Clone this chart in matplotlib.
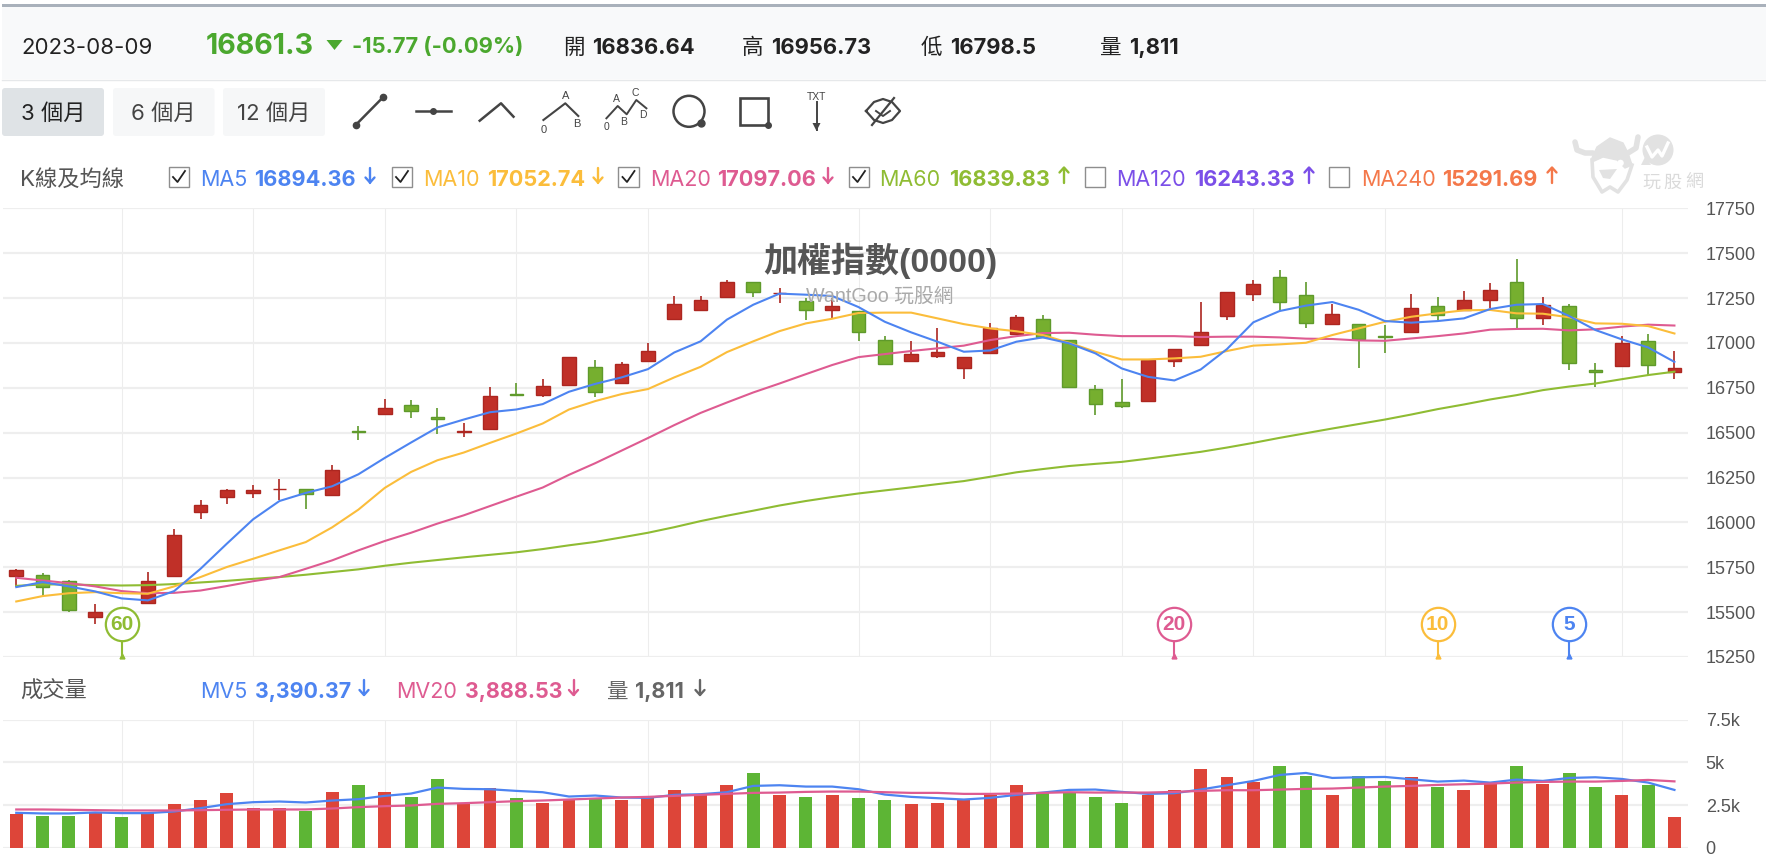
import matplotlib
matplotlib.use("Agg")
import matplotlib.pyplot as plt
import numpy as np
from matplotlib.patches import Circle, Ellipse, FancyBboxPatch, Polygon, Rectangle

W, H = 1766, 866
UI_FONT = ["Inter", "Noto Sans CJK TC", "DejaVu Sans"]
CHART_FONT = ["Liberation Sans", "Noto Sans CJK TC", "DejaVu Sans"]
plt.rcParams["font.family"] = CHART_FONT

opens = [15700, 15704, 15671, 15470, np.nan, 15550, 15700, 16058, 16140, 16164, 16184, 16188, 16154, 16510, 16603, 16653,
         16590, 16506, 16523, 16717, 16709, 16765, 16867, 16774, 16899, 17132, 17184, 17254, 17340, 17277, 17234, 17184,
         17180, 17018, 16899, 16925, 16862, 16942, 17048, 17133, 17018, 16743, 16672, 16674, 16899, 16988, 17148, 17273,
         17368, 17267, 17104, 17105, 17037, 17059, 17208, 17184, 17238, 17340, 17139, 17206, 16849, 16871, 17009, 16836.64]
highs = [15741, 15717, 15680, 15546, np.nan, 15725, 15965, 16127, 16188, 16207, 16242, 16188, 16322, 16538, 16689, 16681,
         16635, 16555, 16752, 16778, 16797, 16921, 16904, 16895, 17001, 17262, 17262, 17349, 17340, 17305, 17252, 17249,
         17180, 17037, 17012, 17083, 16921, 17109, 17154, 17154, 17018, 16763, 16797, 16903, 16966, 17226, 17286, 17349,
         17405, 17342, 17217, 17105, 17100, 17271, 17254, 17288, 17333, 17468, 17254, 17215, 16886, 17038, 17048, 16956.73]
lows = [15639, 15592, 15503, 15434, np.nan, 15550, 15700, 16020, 16102, 16138, 16127, 16076, 16154, 16458, 16603, 16584,
        16495, 16476, 16523, 16711, 16700, 16765, 16700, 16774, 16899, 17132, 17184, 17254, 17254, 17221, 17130, 17137,
        17012, 16880, 16899, 16914, 16798, 16942, 17048, 17035, 16756, 16601, 16638, 16674, 16867, 16988, 17130, 17236,
        17178, 17085, 17104, 16862, 16942, 17059, 17128, 17184, 17193, 17083, 17102, 16852, 16756, 16871, 16821, 16798.5]
closes = [15732, 15639, 15514, 15499, np.nan, 15671, 15927, 16099, 16181, 16182, 16188, 16156, 16294, 16506, 16635, 16622,
          16575, 16510, 16707, 16711, 16761, 16921, 16728, 16884, 16957, 17215, 17241, 17340, 17282, 17280, 17184, 17206,
          17059, 16880, 16940, 16947, 16921, 17081, 17145, 17035, 16756, 16657, 16648, 16903, 16966, 17063, 17286, 17331,
          17228, 17113, 17161, 17022, 17031, 17197, 17158, 17241, 17295, 17139, 17213, 16888, 16836, 17001, 16877, 16861.3]

ma5 = [15639, 15667, 15643, 15615, 15576, 15565, 15617, 15741, 15881, 16017, 16119, 16164, 16201, 16268, 16359, 16445,
       16529, 16573, 16614, 16629, 16659, 16728, 16772, 16808, 16854, 16947, 17009, 17130, 17213, 17275, 17269, 17262,
       17200, 17118, 17059, 17007, 16951, 16958, 17007, 17031, 16998, 16942, 16858, 16811, 16791, 16852, 16966, 17115,
       17178, 17208, 17228, 17185, 17122, 17113, 17122, 17137, 17189, 17213, 17217, 17150, 17072, 17020, 16975, 16894.36]
ma10 = [15559, 15589, 15605, 15611, 15605, 15602, 15643, 15695, 15751, 15797, 15844, 15890, 15972, 16071, 16192, 16281,
        16346, 16389, 16443, 16495, 16551, 16629, 16676, 16715, 16743, 16808, 16867, 16949, 17009, 17066, 17109, 17135,
        17167, 17169, 17169, 17137, 17105, 17081, 17065, 17044, 17001, 16951, 16908, 16908, 16914, 16923, 16955, 16985,
        16992, 17001, 17044, 17081, 17118, 17146, 17165, 17182, 17184, 17165, 17163, 17143, 17109, 17107, 17094, 17052.74]
ma20 = [15691, 15676, 15661, 15643, 15617, 15605, 15607, 15620, 15645, 15672, 15695, 15741, 15788, 15844, 15896, 15942,
        15993, 16039, 16091, 16143, 16194, 16265, 16330, 16400, 16470, 16542, 16610, 16668, 16724, 16774, 16826, 16877,
        16921, 16938, 16955, 16970, 16985, 17016, 17038, 17055, 17057, 17046, 17038, 17038, 17038, 17033, 17035, 17035,
        17031, 17024, 17022, 17014, 17012, 17025, 17038, 17053, 17074, 17078, 17079, 17070, 17076, 17091, 17102, 17097.06]
ma60 = [15646, 15654, 15654, 15650, 15648, 15650, 15656, 15665, 15674, 15685, 15695, 15708, 15723, 15738, 15758, 15775,
        15790, 15805, 15819, 15833, 15851, 15872, 15891, 15916, 15942, 15973, 16007, 16037, 16065, 16094, 16119, 16141,
        16161, 16178, 16195, 16213, 16230, 16254, 16279, 16297, 16314, 16326, 16337, 16355, 16374, 16393, 16417, 16443,
        16471, 16497, 16523, 16548, 16573, 16601, 16631, 16657, 16685, 16709, 16737, 16757, 16774, 16798, 16821, 16839.83]

volumes = [1977, 1880, 1880, 2074, 1802, 2035, 2540, 2810, 3198, 2345, 2345, 2151, 3275, 3663, 3275, 3004,
           4031, 2616, 3488, 2926, 2636, 2810, 2849, 2810, 2907, 3391, 3101, 3663, 4380, 3101, 3004, 3101,
           2907, 2810, 2558, 2636, 2810, 3101, 3663, 3275, 3275, 3004, 2636, 3101, 3391, 4593, 4128, 3837,
           4767, 4205, 3101, 4205, 3934, 4128, 3566, 3391, 3779, 4767, 3740, 4380, 3566, 3101, 3663, 1811]
mv5 = [2054, 2016, 2016, 2074, 2035, 2035, 2132, 2326, 2558, 2674, 2713, 2655, 2771, 2849, 3043, 3178,
       3527, 3450, 3430, 3333, 3256, 3004, 3062, 2946, 2926, 3101, 3140, 3256, 3624, 3663, 3585, 3585,
       3430, 3120, 2984, 2907, 2829, 2926, 3101, 3236, 3391, 3411, 3275, 3159, 3198, 3411, 3663, 3915,
       4264, 4380, 4089, 4128, 4147, 4012, 3876, 3934, 3818, 3992, 3915, 4089, 4128, 4031, 3818, 3390.37]
mv20 = [2248, 2248, 2229, 2209, 2190, 2190, 2190, 2209, 2229, 2248, 2248, 2248, 2306, 2384, 2442, 2481,
        2577, 2616, 2674, 2733, 2771, 2829, 2888, 2946, 2984, 3043, 3101, 3159, 3217, 3236, 3275, 3295,
        3295, 3256, 3217, 3217, 3159, 3159, 3178, 3217, 3256, 3236, 3236, 3236, 3275, 3333, 3372, 3372,
        3411, 3450, 3469, 3527, 3585, 3624, 3682, 3721, 3760, 3818, 3857, 3876, 3876, 3915, 3973, 3888.53]

price_ticks = [15250, 15500, 15750, 16000, 16250, 16500, 16750, 17000, 17250, 17500, 17750]
volume_ticks = [0, 2500, 5000, 7500]
volume_labels = ["0", "2.5k", "5k", "7.5k"]
month_starts = [4, 9, 14, 19, 24, 32, 37, 42, 47, 52, 61]

flag_days = [4, 44, 54, 59]
flag_labels = ["60", "20", "10", "5"]

BLUE, YELLOW, PINK, OLIVE, PURPLE, ORANGE = "#4D84F1", "#FBBD3B", "#DE5B91", "#8FBC33", "#7B4FE8", "#F4784A"
flag_colors = [OLIVE, PINK, YELLOW, BLUE]
GREEN_TEXT = "#4BA82E"
GRID = "#EEEEEE"

fig = plt.figure(figsize=(W / 100, H / 100), dpi=100, facecolor="white")


def axes_at(left, top, right, bottom):
    return fig.add_axes([left / W, (H - bottom) / H, (right - left) / W, (bottom - top) / H], facecolor="none")


def style_panel(ax, ticks, labels=None):
    ax.set_xlim(-0.5, 63.5)
    ax.set_xticks(month_starts)
    ax.set_yticks(ticks)
    if labels:
        ax.set_yticklabels(labels)
    ax.yaxis.tick_right()
    ax.tick_params(axis="y", length=0, pad=13, labelsize=13, labelcolor="#555555")
    ax.tick_params(axis="x", length=0, labelbottom=False)
    ax.grid(axis="y", color=GRID, lw=1.6, zorder=0)
    ax.grid(axis="x", color="#EDEDED", lw=0.8, zorder=0)
    ax.set_axisbelow(True)
    for s in ax.spines.values():
        s.set_visible(False)


# candlesticks and moving averages
ax = axes_at(3.1, 208.4, 1687.6, 656.9)
days = np.arange(len(closes))
opens, highs, lows, closes = map(np.array, (opens, highs, lows, closes))
up = closes >= opens
body_colors = np.where(up, "#C03028", "#76AF2F")
edge_colors = np.where(up, "#AD2620", "#5F9A2B")
ax.vlines(days, lows, highs, colors=edge_colors, lw=1.2, zorder=2)
ax.bar(days, np.abs(closes - opens), bottom=np.minimum(opens, closes), width=0.52,
       color=body_colors, edgecolor=edge_colors, lw=1.0, zorder=3)
for values, color in [(ma60, OLIVE), (ma20, PINK), (ma10, YELLOW), (ma5, BLUE)]:
    ax.plot(days, values, color=color, lw=1.5, zorder=4, solid_joinstyle="round")
style_panel(ax, price_ticks)
ax.set_ylim(15250, 17750)

# average-period flags along the bottom of the price panel
for day, label_text, color in zip(flag_days, flag_labels, flag_colors):
    ax.plot([day, day], [15250, 15345], color=color, lw=1.5, zorder=5, clip_on=False)
    ax.plot([day], [15253], marker="^", ms=3.5, color=color, zorder=5, clip_on=False)
    ax.plot([day], [15433], marker="o", ms=24, mfc="white", mec=color, mew=1.6, zorder=6)
    ax.text(day, 15431, label_text, color=color, fontsize=15, fontweight="bold", ha="center", va="center", zorder=7)

# volume panel
vol = axes_at(3.1, 719.5, 1687.6, 848)
vol.bar(days, volumes, width=0.49, color=np.where(up, "#DD4539", "#5DB535"), zorder=2)
vol.plot(days, mv5, color=BLUE, lw=1.6, zorder=3)
vol.plot(days, mv20, color=PINK, lw=1.6, zorder=3)
style_panel(vol, volume_ticks, volume_labels)
vol.set_ylim(0, 7500)

# page furniture is laid out in pixel coordinates on a transparent overlay
ui = fig.add_axes([0, 0, 1, 1], facecolor="none", zorder=10)
ui.set_xlim(0, W)
ui.set_ylim(H, 0)
ui.axis("off")


def label(x, y, s, color="#222222", size=15, weight="normal", ha="left", family=UI_FONT):
    ui.text(x, y, s, color=color, fontsize=size, fontweight=weight, ha=ha, va="center", family=family)


def arrow(x, y, color, down=True, lw=1.7):
    tip, tail = (y + 7.5, y - 7.5) if down else (y - 7.5, y + 7.5)
    wing = tip - 5 if down else tip + 5
    ui.plot([x, x], [tail, tip], color=color, lw=lw, solid_capstyle="round")
    ui.plot([x - 4.5, x, x + 4.5], [wing, tip, wing], color=color, lw=lw, solid_capstyle="round")


ui.add_patch(Rectangle((2, 7), W, 72, fc="#F8F9FA", ec="none"))
ui.add_patch(Rectangle((2, 4), W, 3, fc="#A9B1BB", ec="none"))
ui.plot([2, W], [79.5, 79.5], color="#E6E8EA", lw=1)

label(21, 47.5, "2023-08-09", size=16)
label(206, 46, "16861.3", color=GREEN_TEXT, size=20.6, weight="bold")
ui.add_patch(Polygon([(326.5, 40), (342.5, 40), (334.5, 50)], fc=GREEN_TEXT, ec="none"))
label(352, 47.5, "-15.77 (-0.09%)", color=GREEN_TEXT, size=15.8, weight="bold")
for x_name, name, x_val, val in [(563, "開", 592, "16836.64"), (742, "高", 771, "16956.73"),
                                 (921, "低", 950, "16798.5"), (1100, "量", 1129, "1,811")]:
    label(x_name, 47.5, name, size=15.5)
    label(x_val, 47.5, val, size=15.8, weight="bold")

# range buttons
for left, right, text, fill, ink in [(2, 104, "3 個月", "#DFE3E6", "#222222"), (113, 214.5, "6 個月", "#F6F7F8", "#444444"),
                                     (223, 325, "12 個月", "#F6F7F8", "#444444")]:
    ui.add_patch(FancyBboxPatch((left + 3, 91), right - left - 6, 42, boxstyle="round,pad=3", fc=fill, ec="none"))
    label((left + right) / 2, 114, text, color=ink, size=16, ha="center")

# drawing tool icons
INK = "#444444"
ui.plot([356, 383], [124.7, 97.3], color=INK, lw=1.8)
ui.plot([356, 383], [124.7, 97.3], "o", color=INK, ms=4.5)
ui.plot([416, 450.5], [110.7, 110.7], color=INK, lw=1.8)
ui.plot([433], [110.7], "o", color=INK, ms=4)
ui.plot([479.7, 501, 513.5], [120.7, 103.3, 116.7], color=INK, lw=1.8)
ui.plot([543.4, 565.3, 578.3], [120, 103.3, 116], color=INK, lw=1.5)
for x, y, s in [(566, 96, "A"), (544, 130, "0"), (577, 124, "B")]:
    label(x, y, s, color=INK, size=8, ha="center", family=CHART_FONT)
ui.plot([606.4, 617.7, 626.7, 636.3, 646.4], [118.3, 106, 114.3, 100, 108.3], color=INK, lw=1.4)
for x, y, s in [(616.5, 99, "A"), (635, 93, "C"), (624, 122, "B"), (643, 115, "D"), (606, 127, "0")]:
    label(x, y, s, color=INK, size=7.5, ha="center", family=CHART_FONT)
ui.add_patch(Circle((689, 111.3), 15.5, fc="none", ec=INK, lw=1.8))
ui.plot([701], [122.7], "o", color=INK, ms=5)
ui.add_patch(Rectangle((739.5, 97.5), 28, 27.5, fc="none", ec=INK, lw=1.9))
ui.plot([767.5], [125], "o", color=INK, ms=4)
label(816.5, 96.5, "TXT", color=INK, size=7.5, ha="center", family=CHART_FONT)
ui.plot([816.5, 816.5], [102, 130], color=INK, lw=1.4)
ui.add_patch(Polygon([(812.5, 123), (820.5, 123), (816.5, 131)], fc=INK, ec="none"))
eye_x = np.array([866, 874, 883, 892, 900, 892, 883, 874, 866])
eye_y = np.array([111, 102, 99, 102, 111, 120, 123, 120, 111])
ui.plot(eye_x, eye_y, color=INK, lw=1.6)
ui.plot([872, 894], [125, 98], color=INK, lw=1.6)
ui.plot([876, 883, 890], [111, 116, 111], color=INK, lw=1.4)

# moving average legend row
label(20, 179, "K線及均線", color="#555555", size=16)
legend_row = [
    (168.5, 200.5, "MA5", 254.5, "16894.36", 370, BLUE, True, True),
    (391.5, 423.5, "MA10", 487.5, "17052.74", 598, YELLOW, True, True),
    (618, 650.5, "MA20", 717.5, "17097.06", 828, PINK, True, True),
    (848.5, 879.5, "MA60", 949, "16839.83", 1064, OLIVE, True, False),
    (1084.5, 1116.5, "MA120", 1194, "16243.33", 1309, PURPLE, False, False),
    (1328.5, 1361, "MA240", 1442, "15291.69", 1552, ORANGE, False, False),
]
for box_x, name_x, name, val_x, val, arrow_x, color, checked, falling in legend_row:
    ui.add_patch(Rectangle((box_x, 166.5), 20.5, 20.5, fc="white", ec="#8E8E8E", lw=1))
    if checked:
        ui.plot([box_x + 4.5, box_x + 9, box_x + 16.5], [177, 182, 171], color="#222222", lw=1.3)
    label(name_x, 179.5, name, color=color, size=15.5)
    label(val_x, 179.5, val, color=color, size=15.6, weight="bold")
    arrow(arrow_x, 175, color, down=falling)

# volume legend row
label(20, 691, "成交量", color="#555555", size=16)
label(200.5, 691.5, "MV5", color=BLUE, size=15.5)
label(255, 691.5, "3,390.37", color=BLUE, size=15.4, weight="bold")
arrow(364, 687.5, BLUE)
label(396.5, 691.5, "MV20", color=PINK, size=15.5)
label(464.5, 691.5, "3,888.53", color=PINK, size=15.4, weight="bold")
arrow(573.5, 687.5, PINK)
label(607, 691.5, "量", color="#666666", size=15.5)
label(635, 691.5, "1,811", color="#666666", size=15.4, weight="bold")
arrow(700, 687.5, "#666666")

# chart title and site mark
label(880, 261, "加權指數(0000)", color="#555555", size=24.5, weight="bold", ha="center", family=CHART_FONT)
label(880, 296, "WantGoo 玩股網", color="#AAAAAA", size=14.2, ha="center", family=CHART_FONT)
LOGO = "#E2E2E2"
ui.plot([1575, 1577, 1585, 1593], [142, 150, 153, 153], color=LOGO, lw=4, solid_capstyle="round")
ui.plot([1638, 1636, 1628], [137, 148, 153], color=LOGO, lw=4, solid_capstyle="round")
ui.plot([1592, 1593, 1602, 1610, 1618, 1627, 1632], [160, 177, 192, 187, 192, 180, 165], color=LOGO, lw=2.6)
ui.add_patch(Polygon([(1592, 158), (1597, 147), (1610, 138), (1623, 143), (1628, 153), (1632, 165), (1625, 168),
                      (1617, 160), (1603, 157), (1592, 162)], fc=LOGO, ec=LOGO, lw=1))
ui.add_patch(Circle((1620.5, 163), 3.3, fc="white", ec="none"))
ui.add_patch(Polygon([(1599, 170), (1617, 169), (1610, 179), (1603, 178)], fc=LOGO, ec="none"))
ui.add_patch(Circle((1658, 150), 15.5, fc=LOGO, ec="none"))
ui.add_patch(Polygon([(1645, 157), (1651, 165), (1641, 165)], fc=LOGO, ec="none"))
ui.plot([1647, 1652, 1658, 1662, 1668], [147, 157, 150, 156, 143], color="white", lw=2.4)
for x, s in zip([1651, 1672, 1694], "玩股網"):
    label(x, 183, s, color="#DADADA", size=13, ha="center", family=CHART_FONT)

fig.savefig("out.png", dpi=100, facecolor="white")
